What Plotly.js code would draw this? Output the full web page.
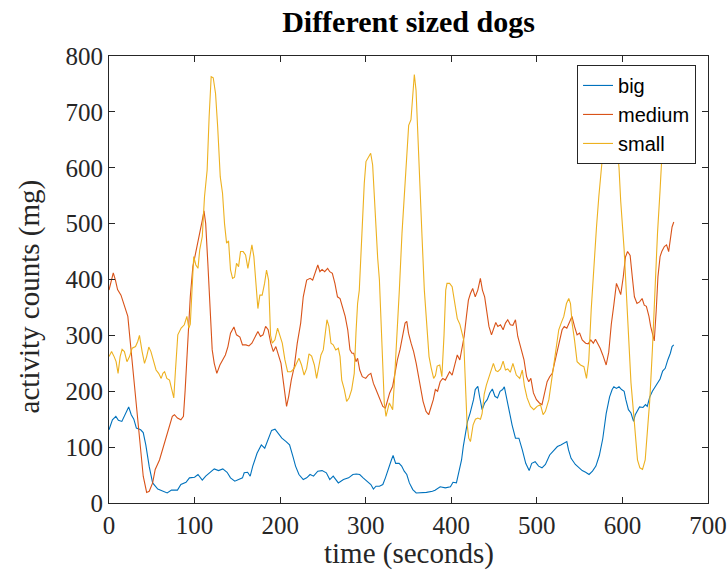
<!DOCTYPE html>
<html>
<head>
<meta charset="utf-8">
<script src="https://cdn.plot.ly/plotly-3.0.1.min.js"></script>
<style>html,body{margin:0;padding:0;background:#fff;}#chart{width:727px;height:572px;}</style>
</head>
<body>
<div id="chart"></div>
<script>
// ---- data (time in seconds, activity in mg) ----
var seriesNames = ["big", "medium", "small"];

var timeBig = [0,4,8,11,15,19,23,26,29,32,37,40,43,47,51,57,63,68,73,80,84,90,94,100,104,109,113,118,123,128,133,138,142,147,152,156,158,162,165,168,173,178,182,186,190,194,198,202,207,211,215,218,222,227,231,235,239,244,249,254,258,262,268,274,280,285,289,293,297,302,306,309,312,316,320,323,326,330,332,335,339,342,345,348,351,355,359,365,371,378,381,387,393,399,402,406,409,412,414,417,419,422,426,428,431,433,436,439,442,445,448,451,454,457,460,462,466,468,471,475,479,483,487,491,494,498,502,506,510,515,520,524,528,532,535,537,540,545,549,553,557,561,565,569,573,577,581,585,588,590,593,596,599,602,604,607,610,613,615,618,620,624,627,629,632,635,638,641,644,647,650,653,656,658,660];
var big = [131,149,155,148,146,158,172,158,150,134,131,126,104,65,36,25,21,18,23,23,33,37,45,46,51,41,48,55,61,58,61,55,45,39,42,45,54,55,48,66,89,104,98,113,130,132,125,116,110,104,83,66,51,42,45,51,48,57,58,54,42,48,36,42,45,51,52,51,45,39,33,25,30,30,33,45,60,77,85,71,71,66,57,51,36,24,18,18,19,21,23,29,27,29,37,36,54,77,101,125,146,161,185,203,209,191,167,179,185,197,204,191,188,200,203,208,175,158,140,116,116,95,71,58,71,74,66,63,69,86,95,101,104,108,110,95,80,69,63,58,55,51,57,66,85,115,160,190,203,208,205,208,203,200,185,167,161,146,158,167,172,171,176,173,190,200,207,214,222,236,241,256,268,280,283];

var timeMedium = [0,3,5,7.5,10,14,17,20,22,25,30,36,40,44,47,51,54,59,63,67,71,74,76.5,80,84,87,89,92,95,98,102,106,109,111,113,115.5,118,120.6,123,126,129.6,132.7,136,139,142,146,149,153,156,160,163.5,167,171,174,177,180,183,186,189,192,195,198,201,204,207.5,210,213,216.5,220,224,227,231,235,238,241,244,246.5,249,252,255.5,258,261,264,267,270,273,276,279,281.6,284,286,288.6,290.5,293,296,300,303,306,309,312,316,320,323,325.6,328,331.5,334.6,337,340,343,346,348,350,353,356,359,362,364.6,367,370.5,373.6,376,379,381.4,384,387,390,393,396,398,401,404,407,410,412.6,415,417.7,420,422.4,425,428,431,434,436.4,439,441,444,447,449,452,454.4,457.5,460.6,463.3,466,469,472,475,477.7,481,485,488,490.5,493,496,499.5,503,506,509,512,515,518,520.6,524,527,529.5,532,535,538.5,541,544,547,550,553,557,560,563,566,568.5,571,574,577,581,584,587,590,593,595.4,598,601,603.5,606,609,611.5,614,617,620,623,625.5,628,631,633,635,637.2,639.5,641.5,644,646,649,651.6,654,656,658,660];
var medium = [381,399,412,399,382,372,357,346,334,286,209,113,48,19,21,36,60,77,98,119,143,155,158,152,149,155,202,280,369,423,453,477,506,523,500,429,357,274,250,232,247,256,265,280,304,315,301,297,283,283,281,286,298,307,298,301,316,310,286,271,280,265,250,214,173,191,220,244,286,322,369,399,402,399,414,426,414,418,414,420,414,411,393,369,366,352,334,310,274,268,268,253,259,238,226,223,229,232,214,203,188,173,170,185,197,209,238,256,274,298,322,325,304,286,271,250,223,203,182,164,158,170,185,203,200,217,223,220,229,235,229,250,265,256,280,298,334,363,375,384,369,381,402,381,369,346,316,301,310,323,316,319,310,322,328,319,318,328,298,280,256,226,217,223,197,185,179,176,197,217,226,232,250,274,295,310,316,313,325,334,316,301,304,292,286,285,292,286,293,286,277,265,247,270,320,355,393,384,373,405,440,450,443,405,369,357,360,366,354,352,334,316,304,290,345,405,441,450,459,462,450,471,494,503];

var timeSmall = [0,3,6,8.3,10.6,13,15.3,18,21,24,27,31,33.6,35.6,38.7,41.5,44,46.5,49,52.4,55,58,61,63,65,67.6,70.7,73.4,75.7,77.7,80.4,84.3,88,91,93.3,95,97,99,101.5,104,106,109,111.6,114.7,117,119.4,121.8,124.5,127,130,132.7,135,137.4,139.7,142,144.4,146.7,149,151.4,153.7,156.8,159.6,162.3,164.6,167,169.3,171.7,174,176.3,179,181.8,184.1,186.5,188.8,190.8,193.9,197,199.7,202.5,205.6,208.7,212.6,216.5,219.2,222,225,228,231,233.7,236.8,240,242.6,245.4,247.7,250.4,252.4,254.7,257,259.4,262,265,268,270,272,275,277.7,280.5,283.6,286.6,288.6,290.5,292.5,294.4,296.4,298.3,300.3,303.4,305.8,308.1,310,312,314,316,317.8,319.8,321.7,323.7,325.6,327.6,329.5,331.5,333.4,336.2,339.3,342.4,345.1,347.9,350.2,352.9,354.9,356.8,358.8,360.7,363.5,365.8,368.5,371.2,374,376.5,379.4,381.5,383.5,386.5,389,391.5,393.5,395,398,401,404,407,410,412.6,414.5,416.5,418.4,420.4,422.4,425.5,428.2,431,434.1,436,438.5,441,444,446.5,449.2,452,454.4,457.5,460.6,463.3,466,469,472,476,480,483,485.5,488.6,492.5,496.4,500.3,504.2,507.3,510,514,516.7,519.8,523,525.6,528.4,531.5,534.6,537.3,539.3,541.2,544,547,551,555,558,560.7,563.5,566.6,569.7,572.4,575,577,581,585,589,593,596,598,602,606,610,614,617.6,620.4,623.5,626.6,629.3,632,635,638.3,641,644,646,650,655,660];
var small = [262,271,262,253,232,262,275,271,253,262,277,280,289,300,271,250,262,279,271,253,238,232,223,232,235,223,220,203,188,238,301,313,319,334,313,320,393,441,426,420,453,477,548,596,691,763,761,733,673,584,554,500,465,469,417,402,404,429,423,450,450,444,420,438,462,441,393,348,372,372,393,417,399,300,286,292,313,298,286,256,235,235,241,250,259,247,229,241,267,263,247,223,247,265,274,298,328,316,286,283,274,277,262,220,203,182,188,203,232,304,357,381,453,524,572,611,621,626,605,548,477,438,399,322,238,179,155,170,179,173,167,214,286,381,483,554,626,676,686,733,767,739,661,572,477,381,316,262,242,223,228,245,247,226,300,381,393,393,387,357,330,320,305,292,214,143,116,110,140,150,152,150,160,195,211,225,238,250,237,235,240,254,238,240,234,250,229,223,238,209,188,173,167,173,176,158,164,185,214,250,286,310,322,334,357,366,357,322,292,253,247,244,223,256,346,429,494,548,596,625,680,710,700,650,600,540,453,334,215,143,77,63,60,77,125,185,274,393,483,560,618,670,700,720];

var colors = ["#0072BD", "#D95319", "#EDB120"];
var xTickVals = [0,100,200,300,400,500,600,700];
var yTickVals = [0,100,200,300,400,500,600,700,800];
var titleText = "Different sized dogs";
var xTitleText = "time (seconds)";
var yTitleText = "activity counts (mg)";

var times = [timeBig, timeMedium, timeSmall];
var values = [big, medium, small];

var traces = seriesNames.map(function(name, i){
  return {
    x: times[i], y: values[i], name: name, type: "scatter", mode: "lines",
    line: {color: colors[i], width: 1.1}
  };
});

var serif = "Liberation Serif, DejaVu Serif, serif";
var axisCommon = {
  showgrid: false, zeroline: false, showline: true, linecolor: "#262626", linewidth: 1,
  mirror: "ticks", ticks: "inside", ticklen: 6, tickwidth: 1, tickcolor: "#262626",
  tickfont: {family: serif, size: 25, color: "#262626"}, automargin: false,
  ticklabeloverflow: "allow"
};

var layout = {
  width: 727, height: 572,
  paper_bgcolor: "#ffffff", plot_bgcolor: "#ffffff",
  margin: {l: 109, r: 19, t: 56, b: 69, pad: 0},
  showlegend: true,
  title: {text: titleText, font: {family: serif, size: 30, color: "#000", weight: "bold"},
          x: 0.5, xref: "paper", xanchor: "center", y: 0.963, yref: "container", yanchor: "middle"},
  xaxis: Object.assign({}, axisCommon, {
    range: [0, 700], tickvals: xTickVals, ticktext: xTickVals.map(String)
  }),
  yaxis: Object.assign({}, axisCommon, {
    range: [0, 800], tickvals: yTickVals, ticktext: yTickVals.map(String)
  }),
  annotations: [
    {text: xTitleText, xref: "paper", yref: "paper", x: 0.5, y: -0.113, xanchor: "center", yanchor: "middle",
     showarrow: false, font: {family: serif, size: 29, color: "#262626"}},
    {text: yTitleText, xref: "paper", yref: "paper", x: -0.132, y: 0.462, xanchor: "center", yanchor: "middle",
     textangle: -90, showarrow: false, font: {family: serif, size: 29, color: "#262626"}}
  ],
  legend: {
    x: 0.98, y: 0.98, xanchor: "right", yanchor: "top",
    bgcolor: "#ffffff", bordercolor: "#262626", borderwidth: 1,
    font: {family: "Liberation Sans, Arial, sans-serif", size: 20, color: "#000"},
    itemwidth: 30, tracegroupgap: 0
  }
};

Plotly.newPlot("chart", traces, layout, {displayModeBar: false, staticPlot: true});
</script>
</body>
</html>
